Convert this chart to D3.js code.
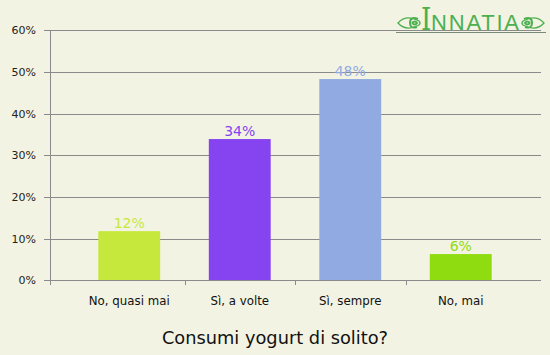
<!DOCTYPE html>
<html><head><meta charset="utf-8">
<script src="https://cdn.jsdelivr.net/npm/d3@7/dist/d3.min.js"></script>
<style>
html,body{margin:0;padding:0;background:#f3f3e3;}
svg{display:block;}
</style></head>
<body>
<svg id="chart" width="550" height="355"></svg>
<script>
const categories = ["No, quasi mai", "Sì, a volte", "Sì, sempre", "No, mai"];
const values = [11.8, 33.9, 48.3, 6.3];
const valueLabels = ["12%", "34%", "48%", "6%"];
const barColors = ["#c6e83c", "#8544f0", "#91abe2", "#8fdc10"];
const yTicks = [0, 10, 20, 30, 40, 50, 60];
const title = "Consumi yogurt di solito?";

const svg = d3.select("#chart");
const W = 550, H = 355;
svg.append("rect").attr("width", W).attr("height", H).attr("fill", "#f3f3e3");

const x0 = 50, x1 = 541, yTop = 30.3, yBot = 280.3;
const y = d3.scaleLinear().domain([0, 60]).range([yBot, yTop]);
const x = d3.scaleBand().domain(categories).range([74, 516]).paddingInner(0.44).paddingOuter(0.22);
const xb = d3.scaleBand().domain(categories).range([74, 516]);

const font = "'DejaVu Sans', Verdana, sans-serif";
const grid = "#8a8a8a";

// gridlines + y axis
const yAxis = d3.axisLeft(y).tickValues(yTicks).tickFormat(d => d + "%").tickSize(x1 - x0 + 6).tickPadding(8);
const gy = svg.append("g").attr("transform", `translate(${x1},0)`).call(yAxis);
gy.select(".domain").remove();
gy.selectAll(".tick line").attr("stroke", grid).attr("stroke-width", 1).attr("shape-rendering", "crispEdges");
gy.selectAll(".tick text").attr("font-family", font).attr("font-size", 11).attr("fill", "#222");

// vertical axis line
svg.append("line").attr("x1", x0 + 0.5).attr("x2", x0 + 0.5).attr("y1", yTop).attr("y2", yBot + 5)
  .attr("stroke", grid).attr("shape-rendering", "crispEdges");

// bottom ticks between categories
const sepTicks = categories.slice(1).map(c => xb(c));
svg.selectAll(".sep").data(sepTicks).enter().append("line")
  .attr("x1", d => Math.round(d) + 0.5).attr("x2", d => Math.round(d) + 0.5)
  .attr("y1", yBot).attr("y2", yBot + 5)
  .attr("stroke", grid).attr("shape-rendering", "crispEdges");

// bars
svg.selectAll(".bar").data(values).enter().append("rect")
  .attr("x", (d, i) => x(categories[i]))
  .attr("width", x.bandwidth())
  .attr("y", d => y(d))
  .attr("height", d => yBot - y(d))
  .attr("fill", (d, i) => barColors[i]);

// redraw baseline on top
svg.append("line").attr("x1", x0).attr("x2", x1).attr("y1", Math.round(yBot) + 0.5).attr("y2", Math.round(yBot) + 0.5)
  .attr("stroke", grid).attr("shape-rendering", "crispEdges");

// value labels
svg.selectAll(".vl").data(values).enter().append("text")
  .attr("x", (d, i) => x(categories[i]) + x.bandwidth() / 2)
  .attr("y", d => y(d) - 3)
  .attr("text-anchor", "middle")
  .attr("font-family", font).attr("font-size", 14)
  .attr("fill", (d, i) => barColors[i])
  .text((d, i) => valueLabels[i]);

// category labels
svg.selectAll(".cl").data(categories).enter().append("text")
  .attr("x", d => x(d) + x.bandwidth() / 2)
  .attr("y", 305)
  .attr("text-anchor", "middle")
  .attr("font-family", font).attr("font-size", 11.8)
  .attr("fill", "#111")
  .text(d => d);

// title
svg.append("text").attr("x", 275).attr("y", 344).attr("text-anchor", "middle")
  .attr("font-family", font).attr("font-size", 17.8).attr("fill", "#111").text(title);

// logo
const logo = svg.append("g");
const lg = "#4cb050";
logo.append("line").attr("x1", 396).attr("x2", 546).attr("y1", 32.5).attr("y2", 32.5)
  .attr("stroke", "#7a8a7a").attr("stroke-width", 1);
function orn(cx, flip) {
  const g = logo.append("g").attr("transform", `translate(${cx},23) scale(${flip ? -1 : 1},1)`);
  g.append("path").attr("d", "M-11,0 Q-3,-9 10,-2 Q12,0 10,2 Q-3,9 -11,0 Z")
    .attr("fill", "none").attr("stroke", lg).attr("stroke-width", 1.3);
  g.append("path").attr("d", "M9,-4 Q1,-7 1,0 Q1,6 8,4 M3,0 Q6,-3 8,0 Q6,3 3,0")
    .attr("fill", "none").attr("stroke", lg).attr("stroke-width", 2);
}
orn(409, false);
orn(533, true);
logo.append("text").attr("transform", "translate(421,30) scale(1,1.25)")
  .attr("font-family", "'DejaVu Serif', 'Liberation Serif', serif")
  .attr("font-size", 26).attr("fill", lg).text("I");
logo.append("text").attr("x", 431).attr("y", 30)
  .attr("font-family", "'Liberation Sans', sans-serif").attr("font-size", 22)
  .attr("letter-spacing", 1.8).attr("fill", lg).text("NNATIA");
</script>
</body></html>
